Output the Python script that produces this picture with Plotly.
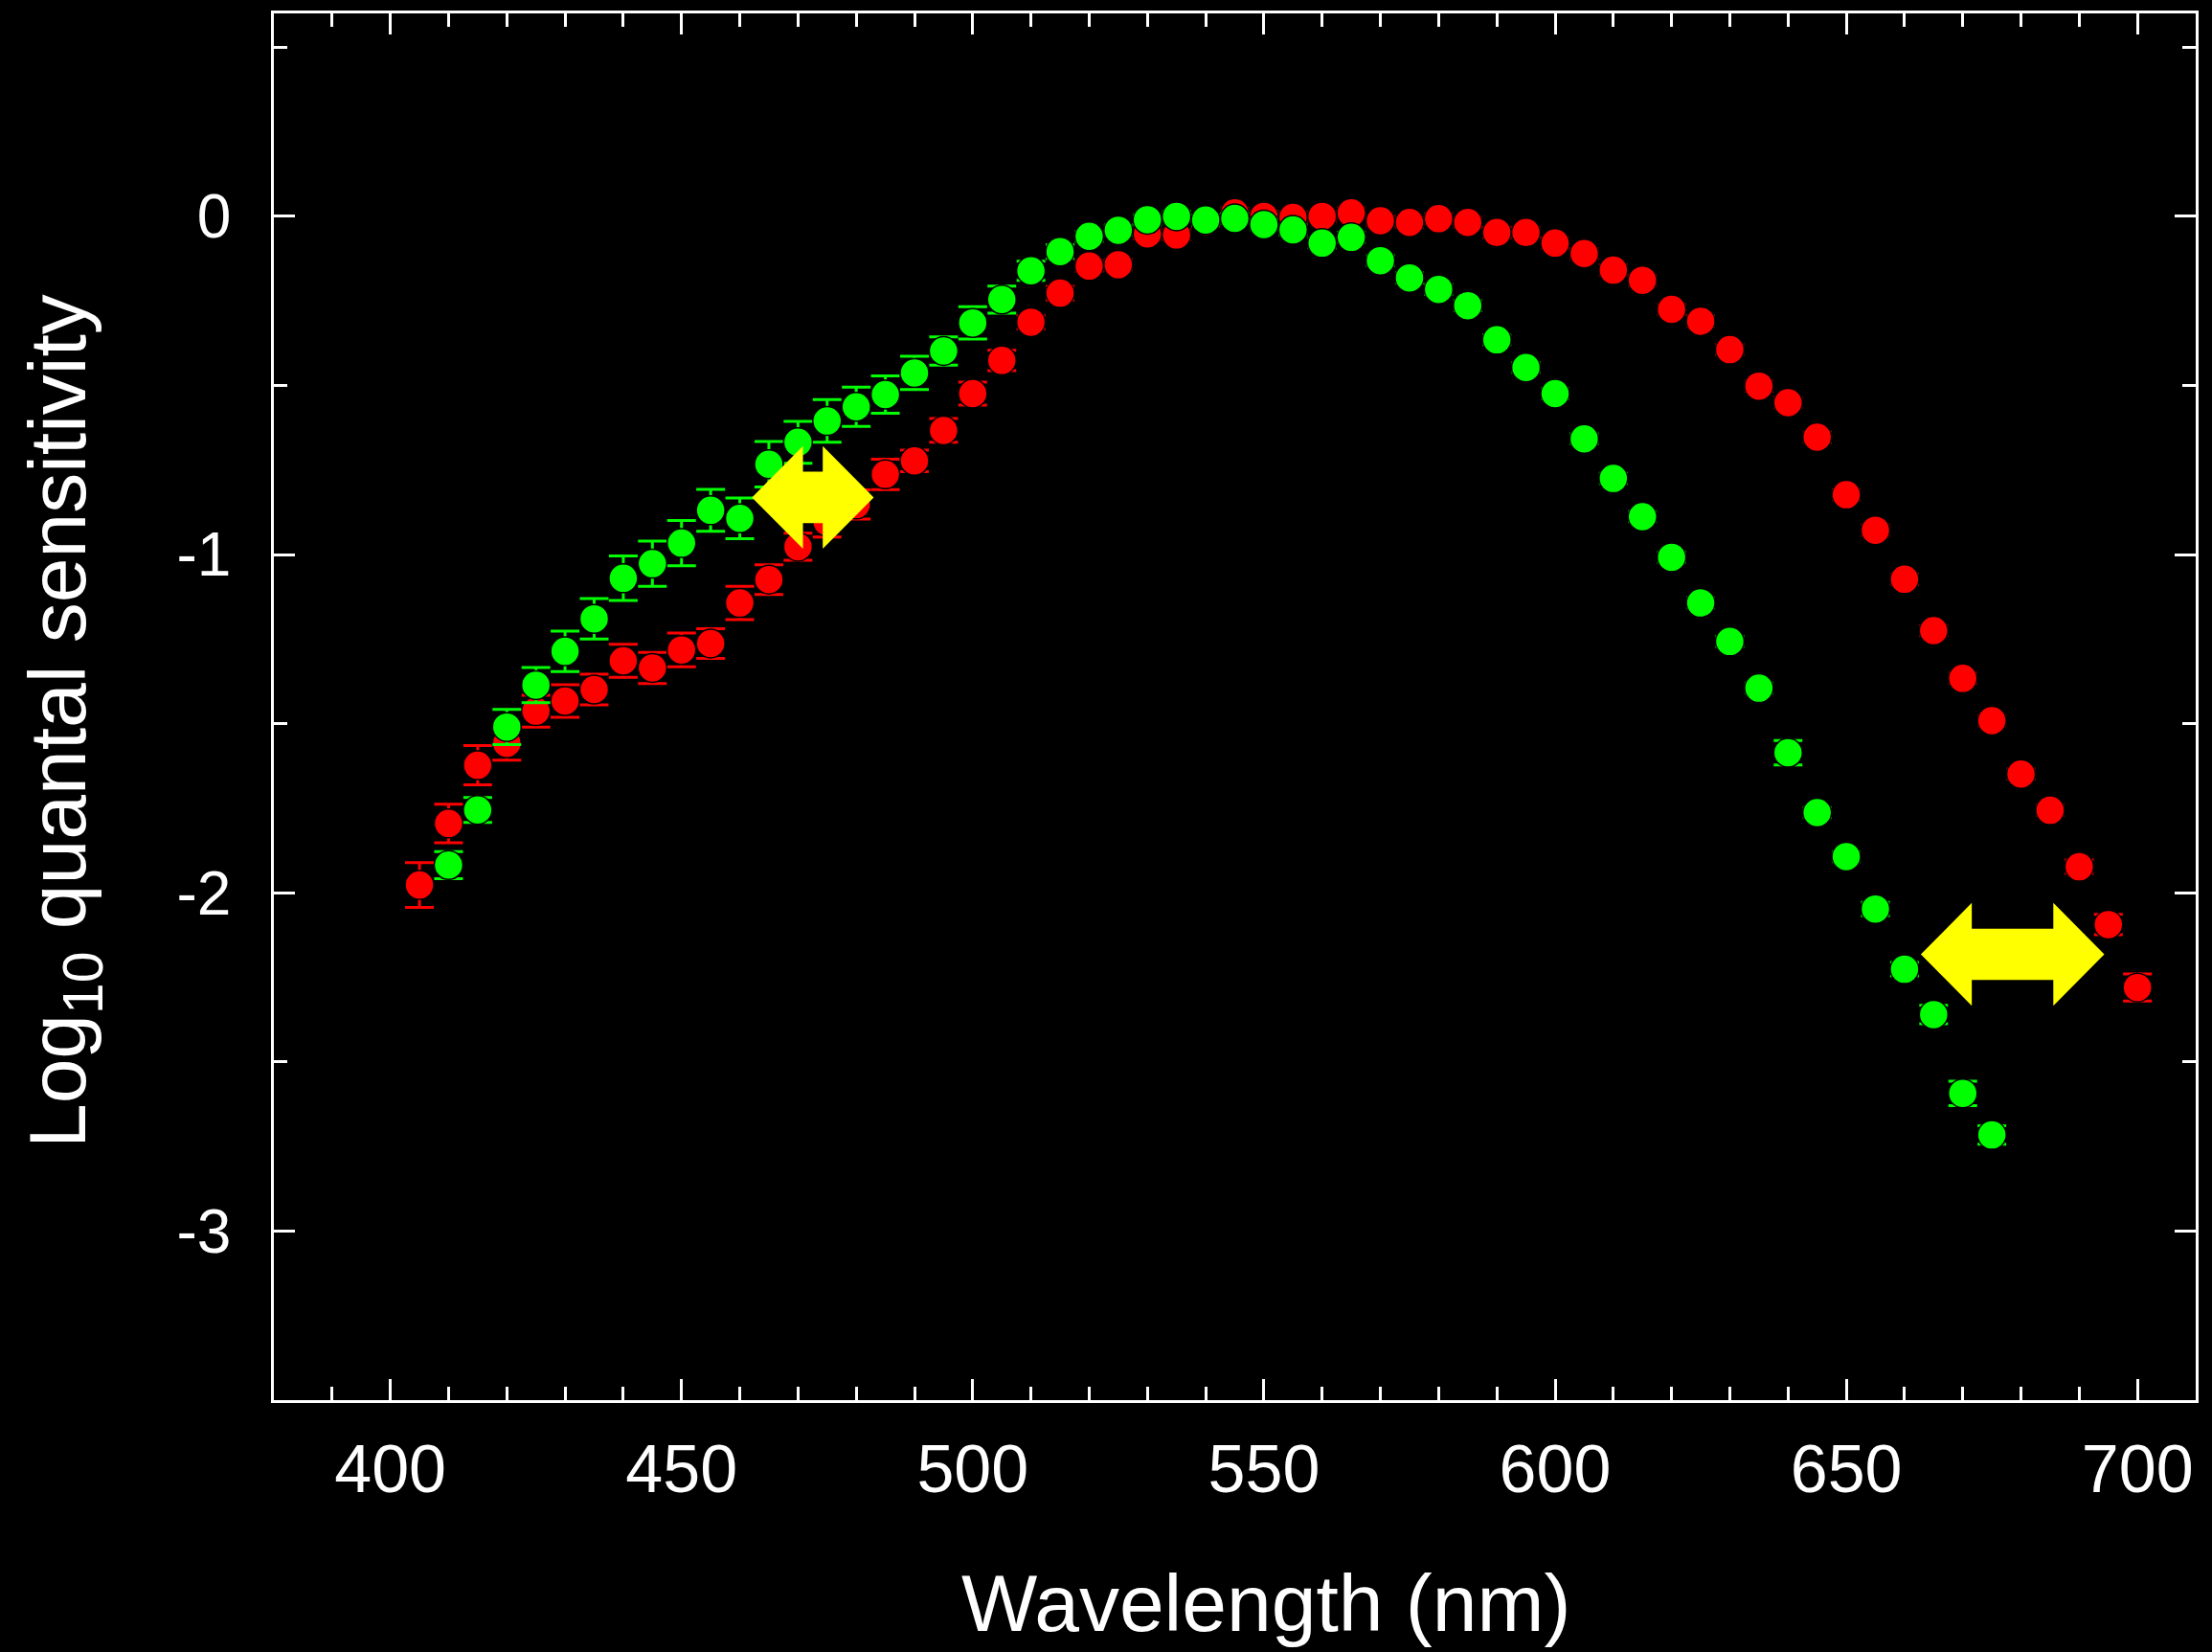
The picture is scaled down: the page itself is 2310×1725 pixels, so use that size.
import plotly.graph_objects as go

# ---------------- data ----------------
red_wl = [405, 410, 415, 420, 425, 430, 435, 440, 445, 450,
          455, 460, 465, 470, 475, 480, 485, 490, 495, 500,
          505, 510, 515, 520, 525, 530, 535, 540, 545, 550,
          555, 560, 565, 570, 575, 580, 585, 590, 595, 600,
          605, 610, 615, 620, 625, 630, 635, 640, 645, 650,
          655, 660, 665, 670, 675, 680, 685, 690, 695, 700]
red_val = [-1.977, -1.795, -1.623, -1.558, -1.463, -1.433, -1.399, -1.314, -1.335, -1.282,
           -1.263, -1.143, -1.074, -0.977, -0.903, -0.852, -0.763, -0.723, -0.633, -0.524,
           -0.426, -0.313, -0.227, -0.147, -0.143, -0.052, -0.055, -0.015, 0.010, 0.000,
           -0.003, 0.000, 0.010, -0.013, -0.018, -0.007, -0.018, -0.048, -0.048, -0.079,
           -0.110, -0.159, -0.189, -0.275, -0.310, -0.394, -0.502, -0.551, -0.653, -0.823,
           -0.928, -1.073, -1.225, -1.366, -1.491, -1.649, -1.756, -1.923, -2.094, -2.280]
red_err = [0.066, 0.057, 0.058, 0.050, 0.047, 0.048, 0.045, 0.049, 0.046, 0.050,
           0.044, 0.049, 0.044, 0.040, 0.045, 0.043, 0.045, 0.032, 0.035, 0.034,
           0.030, 0.020, 0.020, 0.015, 0.015, 0.015, 0.015, 0.015, 0.015, 0.015,
           0.015, 0.015, 0.015, 0.015, 0.015, 0.015, 0.015, 0.015, 0.015, 0.015,
           0.015, 0.015, 0.015, 0.015, 0.015, 0.015, 0.015, 0.015, 0.015, 0.015,
           0.015, 0.015, 0.015, 0.015, 0.015, 0.015, 0.015, 0.020, 0.030, 0.040]

green_wl = [410, 415, 420, 425, 430, 435, 440, 445, 450,
            455, 460, 465, 470, 475, 480, 485, 490, 495, 500,
            505, 510, 515, 520, 525, 530, 535, 540, 545, 550,
            555, 560, 565, 570, 575, 580, 585, 590, 595, 600,
            605, 610, 615, 620, 625, 630, 635, 640, 645, 650,
            655, 660, 665, 670, 675]
green_val = [-1.918, -1.755, -1.510, -1.386, -1.286, -1.190, -1.070, -1.027, -0.966,
             -0.869, -0.893, -0.733, -0.668, -0.605, -0.563, -0.527, -0.463, -0.398, -0.315,
             -0.246, -0.161, -0.104, -0.059, -0.041, -0.010, 0.000, -0.011, -0.006, -0.024,
             -0.040, -0.079, -0.062, -0.131, -0.182, -0.216, -0.264, -0.365, -0.447, -0.524,
             -0.658, -0.775, -0.888, -1.008, -1.143, -1.257, -1.395, -1.586, -1.763, -1.893,
             -2.048, -2.226, -2.360, -2.593, -2.716]
green_err = [0.040, 0.037, 0.052, 0.052, 0.060, 0.060, 0.066, 0.067, 0.067,
             0.062, 0.060, 0.067, 0.062, 0.063, 0.058, 0.055, 0.049, 0.042, 0.048,
             0.040, 0.028, 0.020, 0.015, 0.015, 0.015, 0.015, 0.015, 0.015, 0.015,
             0.015, 0.015, 0.015, 0.015, 0.015, 0.015, 0.015, 0.015, 0.015, 0.015,
             0.015, 0.015, 0.015, 0.015, 0.015, 0.015, 0.015, 0.036, 0.015, 0.015,
             0.020, 0.020, 0.027, 0.036, 0.027]

# double-headed arrows (data units)
arrow_left = [462.1, 662.8]
arrow_right = [483.0, 694.3]
arrow_y = [-0.831, -2.182]
ARROW_HEAD_LEN = 8.75
ARROW_HEAD_HALF = 0.152
ARROW_SHAFT_HALF = 0.076

x_tickvals = [400, 450, 500, 550, 600, 650, 700]
x_ticktext = ["400", "450", "500", "550", "600", "650", "700"]
y_tickvals = [-3, -2, -1, 0]
y_ticktext = ["-3", "-2", "-1", "0"]

x_title = "Wavelength (nm)"
y_title = "Log<sub>10</sub> quantal sensitivity"

FONT = "Liberation Sans, Arial, Helvetica, sans-serif"
AXCOL = "#ffffff"

fig = go.Figure()


def add_series(wl, val, err, color):
    fig.add_trace(go.Scatter(
        x=wl, y=val, mode="markers",
        marker=dict(size=30, color=color, line=dict(color="black", width=1.5)),
        error_y=dict(type="data", array=err, visible=True, color=color,
                     thickness=3, width=15),
        showlegend=False,
    ))


add_series(red_wl, red_val, red_err, "#ff0000")
add_series(green_wl, green_val, green_err, "#00ff00")


def arrow_path(xl, xr, yc):
    b1 = xl + ARROW_HEAD_LEN
    b2 = xr - ARROW_HEAD_LEN
    pts = [(xl, yc), (b1, yc + ARROW_HEAD_HALF), (b1, yc + ARROW_SHAFT_HALF),
           (b2, yc + ARROW_SHAFT_HALF), (b2, yc + ARROW_HEAD_HALF), (xr, yc),
           (b2, yc - ARROW_HEAD_HALF), (b2, yc - ARROW_SHAFT_HALF),
           (b1, yc - ARROW_SHAFT_HALF), (b1, yc - ARROW_HEAD_HALF)]
    return "M " + " L ".join(f"{px},{py}" for px, py in pts) + " Z"


for xl, xr, yc in zip(arrow_left, arrow_right, arrow_y):
    fig.add_shape(type="path", path=arrow_path(xl, xr, yc), xref="x", yref="y",
                  fillcolor="#ffff00", line=dict(width=0), layer="above")

# axis titles (placed as annotations to match the original's offsets)
fig.add_annotation(text=x_title, xref="paper", yref="paper", x=0.516, y=-0.1464,
                   xanchor="center", yanchor="middle", showarrow=False,
                   font=dict(family=FONT, size=84, color="white"))
fig.add_annotation(text=y_title, xref="paper", yref="paper", x=0, y=0.4896,
                   xshift=-220, xanchor="center", yanchor="middle", showarrow=False,
                   textangle=-90, font=dict(family=FONT, size=84, color="white"))

axis_common = dict(
    showline=True, linecolor=AXCOL, linewidth=2.5, mirror="ticks",
    ticks="inside", ticklen=22, tickwidth=2.5, tickcolor=AXCOL,
    showgrid=False, zeroline=False,
)

fig.update_layout(
    width=2310, height=1725,
    paper_bgcolor="black", plot_bgcolor="black",
    margin=dict(l=286, r=17, t=14, b=263),
    font=dict(family=FONT, color="white"),
    xaxis=dict(
        range=[380, 710], tickmode="array", tickvals=x_tickvals, ticktext=x_ticktext,
        tickfont=dict(family=FONT, size=70, color="white"),
        minor=dict(ticks="inside", tickmode="linear", tick0=400, dtick=10, ticklen=14,
                   tickwidth=2.5, tickcolor=AXCOL, showgrid=False),
        ticklabelstandoff=9,
        **axis_common,
    ),
    yaxis=dict(
        range=[-3.5, 0.6], tickmode="array", tickvals=y_tickvals, ticktext=y_ticktext,
        tickfont=dict(family=FONT, size=64, color="white"),
        minor=dict(ticks="inside", tickmode="linear", tick0=0, dtick=0.5, ticklen=14,
                   tickwidth=2.5, tickcolor=AXCOL, showgrid=False),
        ticklabelstandoff=29,
        **axis_common,
    ),
)

fig.write_html(
    "out.html",
    config={"displayModeBar": False},
    post_script="document.body.style.margin='0';document.body.style.background='black';",
)
